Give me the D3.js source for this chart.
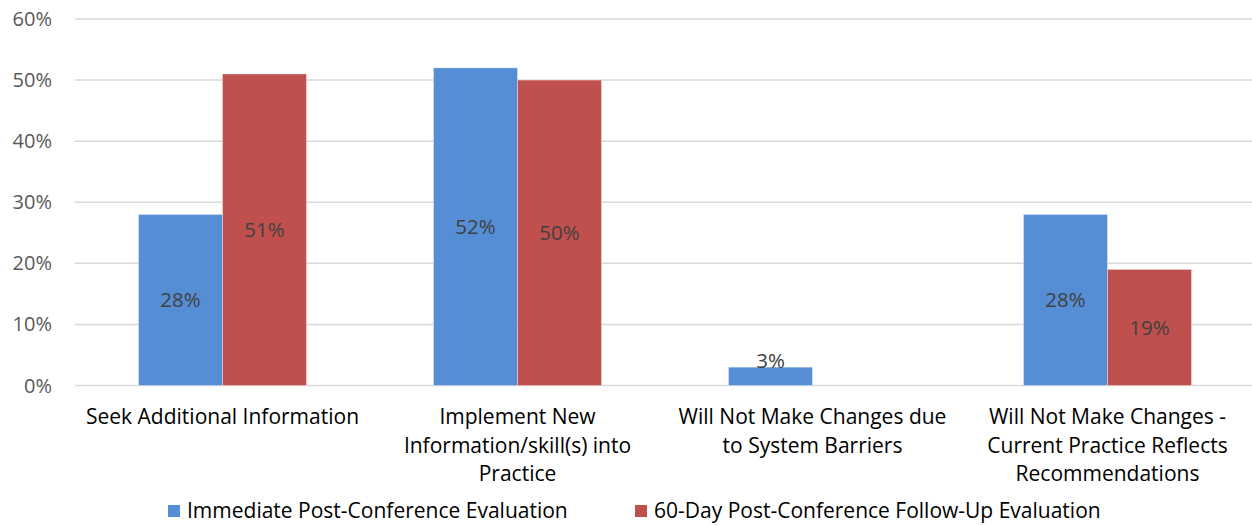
<!DOCTYPE html>
<html>
<head>
<meta charset="utf-8">
<script src="https://cdn.jsdelivr.net/npm/d3@7/dist/d3.min.js"></script>
<style>
  html, body { margin: 0; padding: 0; background: #fff; }
  svg { display: block; font-family: "Open Sans", Lato, sans-serif; }
</style>
</head>
<body>
<svg id="chart" width="1252" height="525"></svg>
<script>
// Categories (each entry is a list of label lines)
const categories = [
  ["Seek Additional Information"],
  ["Implement New", "Information/skill(s) into", "Practice"],
  ["Will Not Make Changes due", "to System Barriers"],
  ["Will Not Make Changes -", "Current Practice Reflects", "Recommendations"]
];
const seriesNames = [
  "Immediate Post-Conference Evaluation",
  "60-Day Post-Conference Follow-Up Evaluation"
];
// Percent values per category
const immediateValues = [28, 52, 3, 28];
const followUpValues  = [51, 50, null, 19];
const yTicks = [0, 10, 20, 30, 40, 50, 60];

const colors = ["#558ed5", "#c0504d"];

const svg = d3.select("#chart");
const margin = { left: 75, right: -3, top: 19, bottom: 139 };
const W = 1252, H = 525;

const x = d3.scaleBand()
  .domain(d3.range(categories.length))
  .range([margin.left, W - margin.right])
  .padding(0);

const xInner = d3.scaleBand()
  .domain([0, 1])
  .range([0, x.bandwidth()])
  .paddingOuter(0.756)
  .paddingInner(0);

const y = d3.scaleLinear()
  .domain([0, 60])
  .range([H - margin.bottom - 0.5, margin.top]);

// Gridlines
svg.append("g")
  .selectAll("line")
  .data(yTicks)
  .join("line")
  .attr("x1", margin.left)
  .attr("x2", W)
  .attr("y1", d => y(d))
  .attr("y2", d => y(d))
  .attr("stroke", "#d9d9d9")
  .attr("stroke-width", 1.5);

// Y axis labels
svg.append("g")
  .selectAll("text")
  .data(yTicks)
  .join("text")
  .attr("x", 52)
  .attr("y", d => y(d))
  .attr("dy", "0.35em")
  .attr("text-anchor", "end")
  .attr("fill", "#595959")
  .attr("font-size", 20)
  .text(d => d + "%");

const series = [immediateValues, followUpValues];
const bars = [];
series.forEach((vals, si) => {
  vals.forEach((v, ci) => {
    if (v == null) return;
    bars.push({ si, ci, v });
  });
});

// Bars
svg.append("g")
  .selectAll("rect")
  .data(bars)
  .join("rect")
  .attr("x", d => x(d.ci) + xInner(d.si))
  .attr("width", xInner.bandwidth())
  .attr("y", d => y(d.v))
  .attr("height", d => y(0) - y(d.v))
  .attr("fill", d => colors[d.si])
  .attr("stroke", "#ffffff")
  .attr("stroke-opacity", 0.35)
  .attr("stroke-width", 1);

// Value labels
svg.append("g")
  .selectAll("text")
  .data(bars)
  .join("text")
  .attr("x", d => x(d.ci) + xInner(d.si) + xInner.bandwidth() / 2)
  .attr("y", d => Math.min((y(d.v) + y(0)) / 2, y(0) - 25))
  .attr("dy", "0.35em")
  .attr("text-anchor", "middle")
  .attr("fill", "#404040")
  .attr("font-size", 20.5)
  .text(d => d.v + "%");

// Category labels
const catG = svg.append("g")
  .selectAll("text")
  .data(categories)
  .join("text")
  .attr("x", (d, i) => x(i) + x.bandwidth() / 2)
  .attr("y", 424)
  .attr("text-anchor", "middle")
  .attr("fill", "#000000")
  .attr("font-size", 21);
catG.selectAll("tspan")
  .data(d => d)
  .join("tspan")
  .attr("x", function () { return d3.select(this.parentNode).attr("x"); })
  .attr("dy", (d, i) => i === 0 ? 0 : 28.5)
  .text(d => d);

// Legend
const legendX = [168, 635];
const legend = svg.append("g")
  .selectAll("g")
  .data(seriesNames)
  .join("g")
  .attr("transform", (d, i) => `translate(${legendX[i]},511)`);
legend.append("rect")
  .attr("x", 0).attr("y", -6)
  .attr("width", 12).attr("height", 12)
  .attr("fill", (d, i) => colors[i]);
legend.append("text")
  .attr("x", 19)
  .attr("y", 0)
  .attr("dy", "0.35em")
  .attr("fill", "#000000")
  .attr("font-size", 21)
  .text(d => d);
</script>
</body>
</html>
